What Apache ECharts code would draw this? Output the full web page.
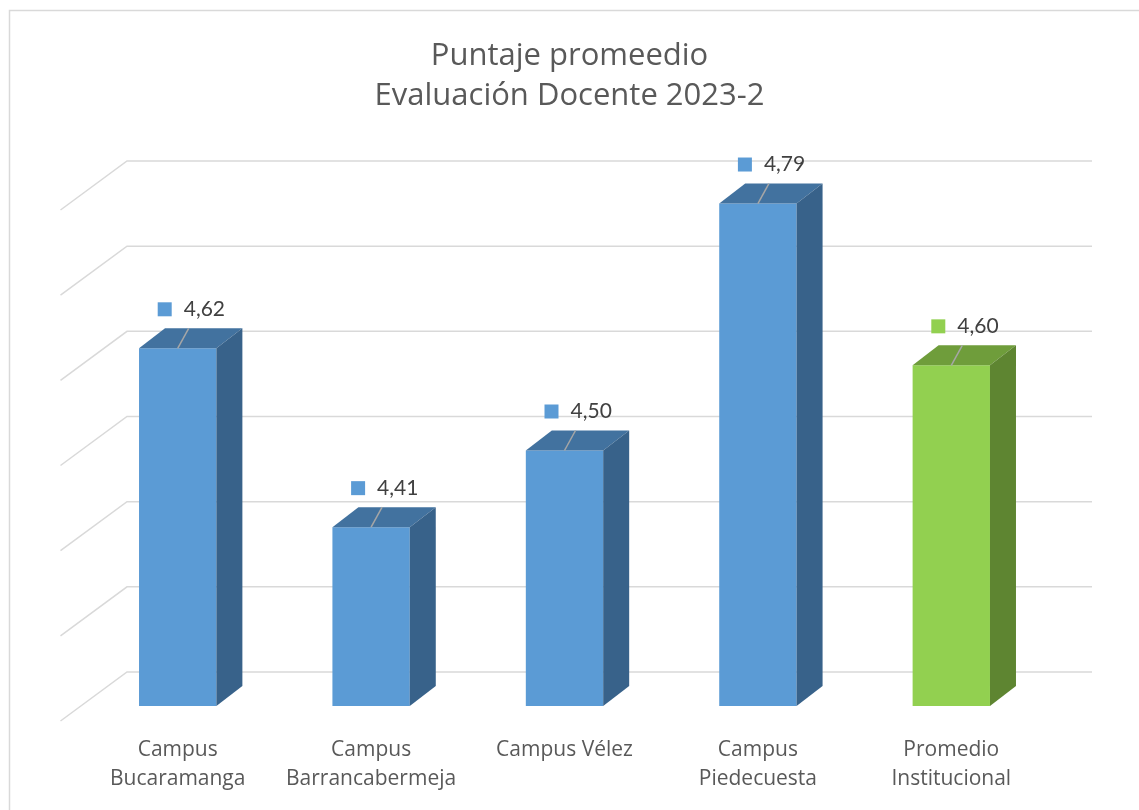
<!DOCTYPE html>
<html>
<head>
<meta charset="utf-8">
<title>Puntaje promedio - Evaluación Docente 2023-2</title>
<script src="https://cdn.jsdelivr.net/npm/echarts@6/dist/echarts.min.js"></script>
<style>
  html, body { margin: 0; padding: 0; background: #fff; }
  #grafico { width: 1139px; height: 810px; }
</style>
</head>
<body>
<div id="grafico"></div>
<script>
// datos
var categorias = ['Campus\nBucaramanga', 'Campus\nBarrancabermeja', 'Campus Vélez', 'Campus\nPiedecuesta', 'Promedio\nInstitucional'];
var puntajes = [4.62, 4.41, 4.50, 4.79, 4.60];
var lineasGuia = [4.2, 4.3, 4.4, 4.5, 4.6, 4.7, 4.8];
var categoriaDestacada = 'Promedio\nInstitucional';

var yMin = 4.2, yMax = 4.8;
var fuente = '"Open Sans", sans-serif';
var fuenteNum = 'Lato, sans-serif';

// profundidad "3D" (pixeles)
var prof = { dx: 26, dy: -20 };          // caja de cada barra
var muro = { dx: 46, dy: -34 };          // pared del fondo
var piso = { dx: -20.5, dy: 15 };        // borde delantero del piso

var azul = { frente: '#5B9BD5', tapa: '#42729F', lado: '#38628A' };
var verde = { frente: '#92D050', tapa: '#6F9D3B', lado: '#5E8531' };

var dom = document.getElementById('grafico');
var myChart = echarts.init(dom);

function dibujarGuia(params, api) {
  var cs = params.coordSys;
  var p = api.coord([0, api.value(0)]);
  var y = p[1];
  return {
    type: 'polyline',
    shape: {
      points: [
        [cs.x + piso.dx, y + piso.dy],
        [cs.x + muro.dx, y + muro.dy],
        [cs.x + cs.width + 44, y + muro.dy]
      ]
    },
    style: { stroke: '#D9D9D9', lineWidth: 1.5, fill: null }
  };
}

function dibujarBarra(params, api) {
  var i = api.value(0);
  var v = api.value(1);
  var tope = api.coord([i, v]);
  var base = api.coord([i, yMin]);
  var w = api.size([1, 0])[0] * 0.4;
  var cx = tope[0];
  var x0 = cx - w / 2, x1 = cx + w / 2;
  var yt = tope[1], yb = base[1];
  var c = categorias[i] === categoriaDestacada ? verde : azul;
  return {
    type: 'group',
    children: [
      { type: 'rect', shape: { x: x0, y: yt, width: w, height: yb - yt }, style: { fill: c.frente } },
      { type: 'polygon', shape: { points: [[x0, yt], [x0 + prof.dx, yt + prof.dy], [x1 + prof.dx, yt + prof.dy], [x1, yt]] }, style: { fill: c.tapa } },
      { type: 'polygon', shape: { points: [[x1, yt], [x1 + prof.dx, yt + prof.dy], [x1 + prof.dx, yb + prof.dy], [x1, yb]] }, style: { fill: c.lado } },
      { type: 'line', shape: { x1: cx, y1: yt, x2: cx + 11, y2: yt - 20 }, style: { stroke: '#A6A6A6', lineWidth: 1.5 } },
      { type: 'rect', shape: { x: cx - 20, y: yt - 46, width: 14, height: 14 }, style: { fill: c.frente } },
      {
        type: 'text',
        style: {
          text: v.toFixed(2).replace('.', ','),
          x: cx + 6, y: yt - 39,
          fill: '#404040', fontSize: 21, fontFamily: fuenteNum,
          align: 'left', verticalAlign: 'middle'
        }
      }
    ]
  };
}

var option = {
  backgroundColor: '#fff',
  animation: false,
  title: {
    text: 'Puntaje promeedio\nEvaluación Docente 2023-2',
    left: 'center',
    top: 31,
    textStyle: { color: '#595959', fontSize: 31, fontWeight: 'normal', lineHeight: 40, fontFamily: fuente }
  },
  graphic: [
    { type: 'rect', left: 7, top: 8, shape: { width: 1300, height: 1000 }, style: { fill: null, stroke: '#D9D9D9', lineWidth: 1.5 } }
  ],
  grid: { left: 81, right: 91, top: 195, bottom: 104 },
  xAxis: {
    type: 'category',
    data: categorias,
    axisLine: { show: false },
    axisTick: { show: false },
    axisLabel: { interval: 0, color: '#595959', fontSize: 21, lineHeight: 29, margin: 30, fontFamily: fuente }
  },
  yAxis: {
    type: 'value',
    min: yMin,
    max: yMax,
    interval: 0.1,
    axisLine: { show: false },
    axisTick: { show: false },
    axisLabel: { show: false },
    splitLine: { show: false }
  },
  series: [
    {
      type: 'custom',
      z: 1,
      renderItem: dibujarGuia,
      encode: { y: 0 },
      data: lineasGuia.map(function (t) { return [t]; })
    },
    {
      type: 'custom',
      z: 2,
      renderItem: dibujarBarra,
      encode: { x: 0, y: 1 },
      data: puntajes.map(function (v, i) { return [i, v]; })
    }
  ]
};

if (option && typeof option === 'object') {
  myChart.setOption(option);
}
</script>
</body>
</html>
